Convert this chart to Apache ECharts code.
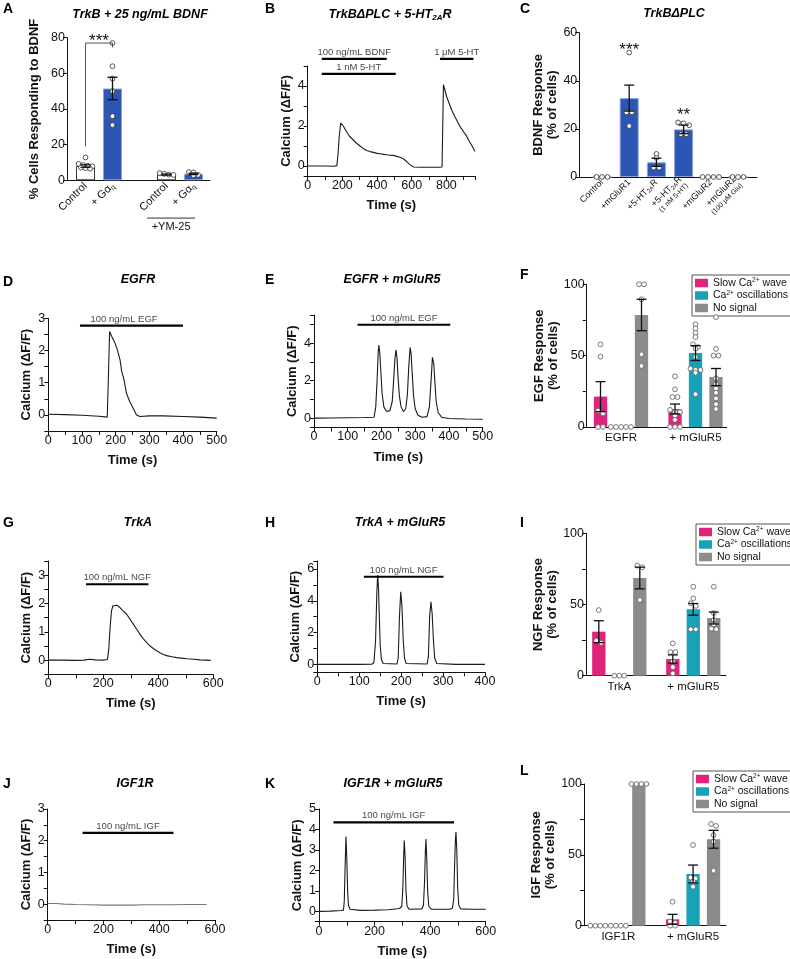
<!DOCTYPE html>
<html><head><meta charset="utf-8">
<script src="https://cdn.jsdelivr.net/npm/echarts@6/dist/echarts.min.js"></script>
<style>html,body{margin:0;padding:0;background:#fff}#c{width:790px;height:959px}</style>
</head><body><div id="c"></div>
<script>
// ======================= DATA =======================
// Panel A
const A_categories = ['Control', '+ Gαq', '', 'Control', '+ Gαq'];
const A_mean = [8, 51.5, null, 3.2, 3.6];
const A_sem = [0.7, 6.3, null, 0.3, 0.4];
const A_dots = [[12.8, 9.2, 8.6, 8.2, 7.8, 7.2, 6.8, 6.5], [77, 64, 57, 50, 36, 31], [], [4.0, 3.6, 3.2, 3.0], [4.6, 4.4, 3.0, 2.8]];
const A_yTicks = [0, 20, 40, 60, 80];

// Panel B
const B_trace = [[0,0],[50,0],[100,0],[150,-0.01],[168,0.02],[175,0.6],[182,1.5],[190,2.15],[196,2.18],[205,2.0],[215,1.85],[225,1.7],[240,1.5],[263,1.3],[280,1.15],[302,1.0],[320,0.88],[340,0.78],[360,0.72],[379,0.68],[400,0.63],[417,0.61],[440,0.58],[456,0.56],[475,0.54],[494,0.53],[515,0.48],[533,0.44],[548,0.38],[561,0.3],[575,0.18],[590,0.07],[610,-0.05],[650,-0.06],[700,-0.06],[760,-0.06],[775,-0.05],[778,1.5],[783,4.07],[790,3.85],[802,3.45],[815,3.15],[831,2.79],[850,2.45],[865,2.2],[879,1.97],[900,1.7],[915,1.52],[927,1.31],[945,1.05],[965,0.73]];
const B_xTicks = [0, 200, 400, 600, 800];
const B_yTicks = [0, 2, 4];
const B_drugs = ['100 ng/mL BDNF', '1 nM 5-HT', '1 μM 5-HT'];
const B_drugOn = [81, 81, 763];
const B_drugOff = [456, 508, 956];

// Panel C
const C_categories = ['Control', '+mGluR1', '+5-HT2AR', '+5-HT2AR (1 nM 5-HT)', '+mGluR2', '+mGluR2 (100 µM Glu)'];
const C_mean = [0, 32.8, 6.1, 19.8, 0, 0];
const C_sem = [0, 5.4, 1.7, 1.8, 0, 0];
const C_dots = [[0, 0, 0], [51.8, 26.9, 26.9, 21.2], [9.6, 8.0, 3.9, 3.9], [22.7, 22.3, 21.5, 17.8, 17.8], [0, 0, 0, 0], [0, 0, 0]];
const C_stars = ['', '***', '', '**', '', ''];
const C_yTicks = [0, 20, 40, 60];

// Panel D
const D_trace = [[0,0.02],[50,0.01],[100,-0.01],[150,-0.04],[175,-0.07],[178,1.0],[182,2.59],[188,2.44],[198,2.23],[205,2.02],[213,1.71],[218,1.35],[225,1.09],[232,0.67],[242,0.41],[252,0.21],[262,0.0],[272,-0.05],[300,-0.03],[340,-0.03],[400,-0.05],[450,-0.07],[500,-0.1]];
const D_xTicks = [0, 100, 200, 300, 400, 500];
const D_yTicks = [0, 1, 2, 3];
const D_drugs = ['100 ng/mL EGF'];
const D_drugOn = [94];
const D_drugOff = [400];

// Panel E
const E_trace = [[0,0],[50,0.01],[100,0.02],[150,0.03],[178,0.05],[183,0.6],[187,2.0],[190,3.4],[192,3.89],[195,3.5],[198,2.5],[202,1.3],[207,0.6],[215,0.35],[225,0.4],[232,0.9],[236,2.0],[240,3.2],[243,3.64],[246,3.2],[249,2.2],[253,1.2],[258,0.6],[265,0.35],[272,0.5],[277,1.3],[281,2.8],[285,3.77],[288,3.4],[291,2.4],[295,1.2],[300,0.5],[308,0.15],[320,0.05],[335,0.08],[342,0.6],[347,2.0],[351,3.24],[355,2.9],[358,2.0],[362,0.9],[368,0.3],[378,0.05],[400,-0.02],[450,-0.05],[500,-0.06]];
const E_xTicks = [0, 100, 200, 300, 400, 500];
const E_yTicks = [0, 2, 4];
const E_drugs = ['100 ng/mL EGF'];
const E_drugOn = [129];
const E_drugOff = [404];

// Panels F / I / L (grouped)
const SIG_names = ['Slow Ca2+ wave', 'Ca2+ oscillations', 'No signal'];
const F_groups = ['EGFR', '+ mGluR5'];
const F_slowMean = [21.3, 12.6], F_slowSem = [10.5, 3.5];
const F_slowDots = [[57.9, 49.3, 11.4, 9.5, 0, 0], [35.5, 26.4, 21, 21, 12, 10.5, 10.5, 8, 5, 0, 0, 0]];
const F_oscMean = [0, 51.8], F_oscSem = [0, 5.2];
const F_oscDots = [[0, 0, 0, 0, 0], [72, 69, 66, 63, 58, 56, 55, 49, 41, 40, 40, 38, 23]];
const F_noMean = [78.5, 35], F_noSem = [11, 6];
const F_noDots = [[100, 100, 89.5, 50.9, 42.8], [77, 54.7, 50, 50, 34, 30, 27, 24, 20, 16, 12.6]];
const F_yTicks = [0, 50, 100];

// Panel G
const G_trace = [[0,0],[50,0],[100,-0.01],[130,0],[150,0.03],[170,0.01],[200,0],[215,0.02],[220,0.4],[225,1.2],[230,1.75],[235,1.92],[242,1.98],[250,1.94],[260,1.86],[270,1.76],[285,1.62],[297,1.45],[309,1.27],[321,1.1],[333,0.92],[345,0.76],[358,0.62],[370,0.5],[382,0.41],[394,0.33],[406,0.26],[418,0.2],[430,0.16],[450,0.12],[467,0.09],[485,0.07],[503,0.05],[530,0.03],[552,0.01],[575,0],[590,-0.01]];
const G_xTicks = [0, 200, 400, 600];
const G_yTicks = [0, 1, 2, 3];
const G_drugs = ['100 ng/mL NGF'];
const G_drugOn = [137];
const G_drugOff = [364];

// Panel H
const H_trace = [[0,0],[50,0],[100,0],[130,0.01],[135,0.1],[139,1.5],[142,4.5],[144,5.62],[146,4.8],[148,3.0],[150,1.2],[153,0.3],[157,0.05],[190,0.02],[193,0.4],[196,3.0],[199,4.57],[202,3.6],[205,1.5],[208,0.4],[212,0.05],[262,0.02],[265,0.5],[268,3.0],[271,3.94],[274,3.2],[277,1.5],[280,0.4],[285,0.05],[330,0],[400,0]];
const H_xTicks = [0, 100, 200, 300, 400];
const H_yTicks = [0, 2, 4, 6];
const H_drugs = ['100 ng/mL NGF'];
const H_drugOn = [111];
const H_drugOff = [301];

// Panel I
const I_groups = ['TrkA', '+ mGluR5'];
const I_slowMean = [30.9, 11.7], I_slowSem = [7.7, 2.9];
const I_slowDots = [[46.1, 24.6, 23], [22.7, 16.6, 16.6, 10, 6, 1.6]];
const I_oscMean = [0, 46.6], I_oscSem = [0, 4.1];
const I_oscDots = [[0, 0, 0], [62.5, 54.3, 50.8, 49, 32.6, 32.6]];
const I_noMean = [68.6, 40.5], I_noSem = [7.6, 4.2];
const I_noDots = [[77.3, 76.1, 53.2], [62.5, 44, 39.1, 36, 33, 32.6]];
const I_yTicks = [0, 50, 100];

// Panel J
const J_trace = [[0,0.02],[30,0.02],[60,0.0],[100,-0.01],[150,-0.02],[200,-0.03],[250,-0.03],[300,-0.03],[350,-0.02],[400,-0.02],[450,-0.02],[500,-0.01],[540,-0.01],[570,-0.01]];
const J_xTicks = [0, 200, 400, 600];
const J_yTicks = [0, 1, 2, 3];
const J_drugs = ['100 ng/mL IGF'];
const J_drugOn = [125];
const J_drugOff = [451];

// Panel K
const K_trace = [[0,0],[40,0.01],[80,0.04],[88,0.06],[91,0.5],[94,2.2],[97,3.66],[100,2.6],[103,1.0],[106,0.3],[112,0.1],[150,0.05],[200,0.06],[250,0.08],[290,0.14],[298,0.25],[302,1.2],[305,2.8],[307,3.46],[310,2.6],[313,1.0],[317,0.25],[325,0.1],[370,0.12],[376,0.3],[380,1.5],[383,3.0],[385,3.53],[388,2.5],[391,1.0],[395,0.25],[405,0.1],[470,0.1],[480,0.15],[485,0.6],[488,2.2],[491,3.5],[493,3.87],[496,3.0],[499,1.2],[503,0.3],[510,0.12],[550,0.1],[600,0.1]];
const K_xTicks = [0, 200, 400, 600];
const K_yTicks = [0, 1, 2, 3, 4, 5];
const K_drugs = ['100 ng/mL IGF'];
const K_drugOn = [52];
const K_drugOff = [486];

// Panel L
const L_groups = ['IGF1R', '+ mGluR5'];
const L_slowMean = [0, 4.5], L_slowSem = [0, 3.5];
const L_slowDots = [[0, 0, 0, 0], [16.9, 3, 2, 0, 0]];
const L_oscMean = [0, 36.5], L_oscSem = [0, 6.3];
const L_oscDots = [[0, 0, 0, 0], [56.9, 34, 33.4, 31, 27.5]];
const L_noMean = [100, 61], L_noSem = [0, 6.3];
const L_noDots = [[100, 100, 100, 100], [71.8, 70.4, 64, 59.3, 38.8]];
const L_yTicks = [0, 50, 100];

// ======================= STYLE / LAYOUT =======================
const FONT = '"Liberation Sans", Arial, Helvetica, sans-serif';
const INK = '#111';
const BLUE = '#2d55b3';
const PINK = '#e0237b';
const TEAL = '#17a2b8';
const GREY = '#8b8b8b';
const SIG_colors = [PINK, TEAL, GREY];

const grids = [], xAxes = [], yAxes = [], series = [], graphics = [], legends = [];

function near(a, b) { return Math.abs(a - b) < 1e-6; }
function addGrid(r) { grids.push({ left: r[0], top: r[1], width: r[2], height: r[3] }); return grids.length - 1; }

function axisBase() {
  return {
    axisLine: { show: true, onZero: false, lineStyle: { color: INK, width: 1 } },
    axisTick: { show: true, length: 4, lineStyle: { color: INK, width: 1 } },
    splitLine: { show: false },
  };
}

function swarm(vals, pxPerUnit, spacing, thresh) {
  const order = vals.map((v, i) => i).sort((a, b) => vals[b] - vals[a]);
  const dx = new Array(vals.length).fill(0);
  let row = [], rowTop = 0;
  const flush = () => { row.forEach((k, j) => { dx[k] = (j - (row.length - 1) / 2) * spacing; }); row = []; };
  order.forEach(k => {
    const y = vals[k] * pxPerUnit;
    if (row.length && rowTop - y > thresh) flush();
    if (!row.length) rowTop = y;
    row.push(k);
  });
  flush();
  return dx;
}

// ---------- trace panel ----------
function tracePanel(p) {
  const g = addGrid(p.rect);
  const xi = xAxes.length, yi = yAxes.length;
  xAxes.push(Object.assign(axisBase(), {
    type: 'value', gridIndex: g, min: p.x[0], max: p.x[1], interval: p.xStep,
    axisLabel: { color: INK, fontSize: 12.5, fontFamily: FONT, margin: 3,
      formatter: v => p.xTicks.some(t => near(t, v)) ? String(v) : '' },
    name: 'Time (s)', nameLocation: 'middle', nameGap: 23,
    nameTextStyle: { color: INK, fontWeight: 'bold', fontSize: 13, fontFamily: FONT }
  }));
  yAxes.push(Object.assign(axisBase(), {
    type: 'value', gridIndex: g, min: p.y[0], max: p.y[1],
    minInterval: p.yStep, maxInterval: p.yStep, splitNumber: Math.round((p.y[1] - p.y[0]) / p.yStep),
    axisLabel: { color: INK, fontSize: 12.5, fontFamily: FONT, margin: 3,
      formatter: v => p.yTicks.some(t => near(t, v)) ? String(v) : '' },
    name: 'Calcium (ΔF/F)', nameLocation: 'middle', nameGap: 15,
    nameTextStyle: { color: INK, fontWeight: 'bold', fontSize: 13, fontFamily: FONT }
  }));
  series.push({ type: 'line', xAxisIndex: xi, yAxisIndex: yi, data: p.trace, symbol: 'none', silent: true,
    lineStyle: { color: p.traceColor || '#1a1a1a', width: 1.1 }, z: 3 });
  p.drugs.forEach((name, i) => {
    const lvl = p.levels[i];
    series.push({ type: 'line', xAxisIndex: xi, yAxisIndex: yi, clip: false, silent: true, symbol: 'none',
      data: [[p.on[i], lvl], [p.off[i], lvl]], lineStyle: { color: '#000', width: 2.2 }, z: 4 });
    const tx = (p.textX && p.textX[i] != null) ? p.textX[i] : (p.on[i] + p.off[i]) / 2;
    series.push({ type: 'scatter', xAxisIndex: xi, yAxisIndex: yi, clip: false, silent: true,
      data: [[tx, lvl]], symbolSize: 1, itemStyle: { color: 'rgba(0,0,0,0)' },
      label: { show: true, position: 'top', distance: 1, formatter: name, color: INK, fontSize: 9.5, fontFamily: FONT } });
  });
}

// ---------- bar panel ----------
function barPanel(p) {
  const [fl, ft, fw, fh] = p.frame;
  const gF = addGrid(p.frame);
  xAxes.push({ type: 'value', gridIndex: gF, min: 0, max: 1, axisLine: { show: true, onZero: false, lineStyle: { color: INK } },
    axisTick: { show: false }, axisLabel: { show: false }, splitLine: { show: false } });
  yAxes.push(Object.assign(axisBase(), {
    type: 'value', gridIndex: gF, min: p.y[0], max: p.y[1], interval: p.yStep,
    axisLabel: { color: INK, fontSize: 12.5, fontFamily: FONT, margin: 2,
      formatter: v => p.yTicks.some(t => near(t, v)) ? String(v) : '' },
    name: p.yName, nameLocation: 'middle', nameGap: p.yNameGap,
    nameTextStyle: { color: INK, fontWeight: 'bold', fontSize: 13, lineHeight: 14, fontFamily: FONT }
  }));
  const gC = addGrid([p.cats[0], ft, p.cats[1], fh]);
  const cx = xAxes.length, cy = yAxes.length;
  xAxes.push({ type: 'category', gridIndex: gC, data: p.categories, axisLine: { show: false }, axisTick: { show: false },
    splitLine: { show: false },
    axisLabel: Object.assign({ color: INK, fontFamily: FONT, interval: 0 }, p.catLabel) });
  yAxes.push({ type: 'value', gridIndex: gC, min: p.y[0], max: p.y[1], show: false });
  const pxPerUnit = fh / (p.y[1] - p.y[0]);
  const n = p.sets.length;
  p.sets.forEach((s, k) => {
    const off = (k - (n - 1) / 2) * (p.barW + p.gapPx);
    series.push({ type: 'bar', name: s.name, xAxisIndex: cx, yAxisIndex: cy, barWidth: p.barW, barGap: p.barGap,
      silent: true, z: 2, itemStyle: { color: s.colors[s.colors.length - 1] },
      data: s.mean.map((v, i) => v == null ? '-' : { value: v,
        itemStyle: { color: s.colors[i], borderColor: s.borders ? s.borders[i] : s.colors[i], borderWidth: s.borders ? 1 : 0 } }) });
    // dots
    const pts = [], dxs = [];
    s.dots.forEach((vals, ci) => {
      const dx = swarm(vals, pxPerUnit, p.dotSpacing, p.dotThresh);
      vals.forEach((v, j) => { pts.push([ci, v]); dxs.push(off + dx[j]); });
    });
    series.push({ type: 'custom', xAxisIndex: cx, yAxisIndex: cy, clip: false, silent: true, z: 5, data: pts,
      renderItem: (params, api) => {
        const c = api.coord([api.value(0), api.value(1)]);
        return { type: 'circle', shape: { cx: c[0] + dxs[params.dataIndex], cy: c[1], r: 2.4 },
          style: { fill: '#fff', stroke: p.dotStroke, lineWidth: 0.9 } };
      } });
    // error bars
    const eb = [];
    s.mean.forEach((m, i) => { if (m != null && s.sem[i] > 0) eb.push([i, m, s.sem[i]]); });
    series.push({ type: 'custom', xAxisIndex: cx, yAxisIndex: cy, clip: false, silent: true, z: 6, data: eb,
      renderItem: (params, api) => {
        const ci = api.value(0), m = api.value(1), se = api.value(2);
        const t = api.coord([ci, m + se]), b = api.coord([ci, m - se]);
        const x = t[0] + off, cap = p.cap;
        const st = { stroke: '#111', lineWidth: 1.3 };
        return { type: 'group', children: [
          { type: 'line', shape: { x1: x, y1: t[1], x2: x, y2: b[1] }, style: st },
          { type: 'line', shape: { x1: x - cap, y1: t[1], x2: x + cap, y2: t[1] }, style: st },
          { type: 'line', shape: { x1: x - cap, y1: b[1], x2: x + cap, y2: b[1] }, style: st } ] };
      } });
  });
  if (p.extra) p.extra(cx, cy);
}

// ======================= BUILD =======================
// ---- A
barPanel({
  frame: [67, 37.7, 143, 142.6], cats: [72, 135], y: [0, 80], yStep: 20, yTicks: A_yTicks,
  yName: '% Cells Responding to BDNF', yNameGap: 26,
  categories: A_categories,
  catLabel: { rotate: 45, fontSize: 11, margin: 4,
    formatter: v => v.indexOf('α') >= 0 ? '+ Gα{q|q}' : v,
    rich: { q: { fontSize: 7, padding: [5, 0, 0, 0] } } },
  barW: 19, gapPx: 0, barGap: '0%', cap: 5, dotSpacing: 4.6, dotThresh: 3, dotStroke: '#444',
  sets: [{ name: 'A', mean: A_mean, sem: A_sem, dots: A_dots,
    colors: ['#ffffff', BLUE, BLUE, '#ffffff', BLUE], borders: ['#333', '#8aa2da', '#8aa2da', '#333', '#8aa2da'] }],
  extra: (cx, cy) => {
    series.push({ type: 'custom', xAxisIndex: cx, yAxisIndex: cy, clip: false, silent: true, z: 7, data: [[0, 0]],
      renderItem: (params, api) => {
        const a = api.coord([0, 19]), b = api.coord([0, 77]), c = api.coord([1, 77]), d = api.coord([1, 74.5]);
        const s = api.coord([0.5, 80.5]);
        const p3 = api.coord([3, -21.2]), p4 = api.coord([4, -21.2]);
        const w = p4[0] - p3[0];
        const ty = api.coord([3, -26.3])[1];
        return { type: 'group', children: [
          { type: 'polyline', shape: { points: [a, b, c, d] }, style: { stroke: '#555', lineWidth: 1, fill: null } },
          { type: 'text', x: (b[0] + c[0]) / 2, y: s[1] + 5, style: { text: '***', align: 'center', verticalAlign: 'middle', fontSize: 17, fontFamily: FONT, fill: INK } },
          { type: 'line', shape: { x1: p3[0] - 0.72 * w, y1: p3[1], x2: p4[0] + 0.06 * w, y2: p3[1] }, style: { stroke: '#333', lineWidth: 1 } },
          { type: 'text', x: p3[0] + 0.17 * w, y: ty, style: { text: '+YM-25', align: 'center', verticalAlign: 'middle', fontSize: 11, fontFamily: FONT, fill: INK } }
        ] };
      } });
  }
});

// ---- C
barPanel({
  frame: [579.3, 32.7, 177.7, 144.3], cats: [588.4, 163.2], y: [0, 60], yStep: 20, yTicks: C_yTicks,
  yName: 'BDNF Response\n(% of cells)', yNameGap: 19,
  categories: C_categories,
  catLabel: { rotate: 45, fontSize: 9, margin: 4, lineHeight: 10,
    formatter: v => {
      const parts = v.split(' (');
      let first = parts[0].replace('2AR', '{s|2A}R');
      return parts.length > 1 ? first + '\n{m|(' + parts[1] + '}' : first;
    },
    rich: { s: { fontSize: 6, padding: [4, 0, 0, 0] }, m: { fontSize: 7, lineHeight: 9 } } },
  barW: 19, gapPx: 0, barGap: '0%', cap: 5, dotSpacing: 5.5, dotThresh: 3, dotStroke: '#444',
  sets: [{ name: 'C', mean: C_mean, sem: C_sem, dots: C_dots, colors: C_mean.map(() => BLUE), borders: C_mean.map(() => '#8aa2da') }],
  extra: (cx, cy) => {
    const sd = [];
    C_stars.forEach((s, i) => { if (s) sd.push([i, C_mean[i] + C_sem[i]]); });
    series.push({ type: 'custom', xAxisIndex: cx, yAxisIndex: cy, clip: false, silent: true, z: 7, data: sd,
      renderItem: (params, api) => {
        const i = api.value(0);
        const c = api.coord([i, i === 1 ? 54.9 : 27.9]);
        return { type: 'text', x: c[0], y: c[1] + 5, style: { text: C_stars[i], align: 'center', verticalAlign: 'middle', fontSize: 17, fontFamily: FONT, fill: INK } };
      } });
  }
});

// ---- grouped panels F, I, L
function groupedPanel(frame, cats, groups, mean3, sem3, dots3, yTicks, yName, legendPos) {
  barPanel({
    frame, cats, y: [0, 100], yStep: 25, yTicks, yName, yNameGap: 20,
    categories: groups,
    catLabel: { fontSize: 11.5, margin: 5 },
    barW: 13.3, gapPx: 7.2, barGap: '54%', cap: 5, dotSpacing: 5, dotThresh: 3, dotStroke: '#6a6a6a',
    sets: SIG_names.map((nm, k) => ({ name: nm, mean: mean3[k], sem: sem3[k], dots: dots3[k],
      colors: mean3[k].map(() => SIG_colors[k]) }))
  });
  legends.push({
    orient: 'vertical', left: legendPos[0], top: legendPos[1], data: SIG_names, selectedMode: false,
    icon: 'rect', itemWidth: 13, itemHeight: 8.5, itemGap: 0.5, padding: [2, 4, 2, 3],
    borderColor: '#555', borderWidth: 1,
    formatter: nm => nm.replace('Ca2+', 'Ca{sup|2+}'),
    textStyle: { color: INK, fontSize: 10.5, fontFamily: FONT, lineHeight: 12,
      rich: { sup: { fontSize: 6.5, verticalAlign: 'top', lineHeight: 8, fontFamily: FONT, color: INK } } }
  });
}
groupedPanel([586.7, 284.3, 140, 142.7], [583.75, 149], F_groups,
  [F_slowMean, F_oscMean, F_noMean], [F_slowSem, F_oscSem, F_noSem], [F_slowDots, F_oscDots, F_noDots],
  F_yTicks, 'EGF Response\n(% of cells)', [692, 275]);
groupedPanel([586, 533.3, 140, 142.4], [582.3, 148], I_groups,
  [I_slowMean, I_oscMean, I_noMean], [I_slowSem, I_oscSem, I_noSem], [I_slowDots, I_oscDots, I_noDots],
  I_yTicks, 'NGF Response\n(% of cells)', [696, 524]);
groupedPanel([584, 784, 142, 141.7], [581, 149.4], L_groups,
  [L_slowMean, L_oscMean, L_noMean], [L_slowSem, L_oscSem, L_noSem], [L_slowDots, L_oscDots, L_noDots],
  L_yTicks, 'IGF Response\n(% of cells)', [693, 771]);

// ---- trace panels
tracePanel({ rect: [307.7, 66, 167.3, 110], x: [0, 965], xStep: 100, xTicks: B_xTicks, y: [-0.5, 5], yStep: 1, yTicks: B_yTicks,
  trace: B_trace, drugs: B_drugs, on: B_drugOn, off: B_drugOff, levels: [5.36, 4.61, 5.36] });
tracePanel({ rect: [48.3, 318.3, 168.4, 112.7], x: [0, 500], xStep: 50, xTicks: D_xTicks, y: [-0.5, 3], yStep: 0.5, yTicks: D_yTicks,
  trace: D_trace, drugs: D_drugs, on: D_drugOn, off: D_drugOff, levels: [2.77], textX: [225] });
tracePanel({ rect: [314, 315, 168.7, 112.5], x: [0, 500], xStep: 50, xTicks: E_xTicks, y: [-0.5, 5.5], yStep: 1, yTicks: E_yTicks,
  trace: E_trace, drugs: E_drugs, on: E_drugOn, off: E_drugOff, levels: [4.98] });
tracePanel({ rect: [48.3, 561, 165, 113.3], x: [0, 600], xStep: 100, xTicks: G_xTicks, y: [-0.5, 3.5], yStep: 0.5, yTicks: G_yTicks,
  trace: G_trace, drugs: G_drugs, on: G_drugOn, off: G_drugOff, levels: [2.68] });
tracePanel({ rect: [317.3, 561, 167.7, 111.3], x: [0, 400], xStep: 50, xTicks: H_xTicks, y: [-0.5, 6.5], yStep: 1, yTicks: H_yTicks,
  trace: H_trace, drugs: H_drugs, on: H_drugOn, off: H_drugOff, levels: [5.51] });
tracePanel({ rect: [47.7, 809, 167.3, 111], x: [0, 600], xStep: 100, xTicks: J_xTicks, y: [-0.5, 3], yStep: 0.5, yTicks: J_yTicks,
  trace: J_trace, drugs: J_drugs, on: J_drugOn, off: J_drugOff, levels: [2.25], traceColor: '#777' });
tracePanel({ rect: [319, 809, 166.7, 112.6], x: [0, 600], xStep: 100, xTicks: K_xTicks, y: [-0.5, 5], yStep: 1, yTicks: K_yTicks,
  trace: K_trace, drugs: K_drugs, on: K_drugOn, off: K_drugOff, levels: [4.35] });

// ---- letters and titles
const LETTERS = [['A', 3, 9], ['B', 265, 9], ['C', 520, 9], ['D', 3, 282], ['E', 265, 280], ['F', 520, 275],
  ['G', 3, 523], ['H', 265, 523], ['I', 520, 523], ['J', 3, 784], ['K', 265, 784], ['L', 520, 771]];
LETTERS.forEach(([t, x, y]) => graphics.push({ type: 'text', x, y, silent: true,
  style: { text: t, fontSize: 14, fontWeight: 'bold', fontFamily: FONT, fill: '#000', align: 'left', verticalAlign: 'middle' } }));
const TITLES = [['TrkB + 25 ng/mL BDNF', 140, 15], ['TrkBΔPLC + 5-HT{s|2A}R', 390, 15], ['TrkBΔPLC', 674, 14],
  ['EGFR', 138, 280], ['EGFR + mGluR5', 392, 280], ['TrkA', 138, 523], ['TrkA + mGluR5', 400, 523],
  ['IGF1R', 135, 784], ['IGF1R + mGluR5', 393, 784]];
TITLES.forEach(([t, x, y]) => graphics.push({ type: 'text', x, y, silent: true,
  style: { text: t, fontSize: 12.5, fontWeight: 'bold', fontStyle: 'italic', fontFamily: FONT, fill: '#000',
    align: 'center', verticalAlign: 'middle',
    rich: { s: { fontSize: 8, fontWeight: 'bold', fontStyle: 'italic', fontFamily: FONT, padding: [6, 0, 0, 0] } } } }));

const chart = echarts.init(document.getElementById('c'), null, { renderer: 'canvas' });
chart.setOption({
  animation: false, backgroundColor: '#fff', textStyle: { fontFamily: FONT },
  grid: grids, xAxis: xAxes, yAxis: yAxes, series, legend: legends, graphic: graphics
});
</script></body></html>
